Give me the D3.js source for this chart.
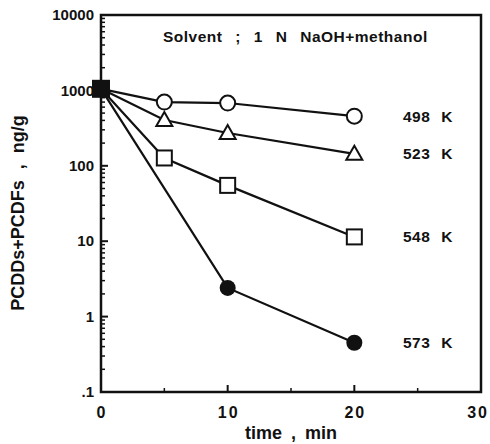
<!DOCTYPE html>
<html>
<head>
<meta charset="utf-8">
<script src="https://cdn.jsdelivr.net/npm/d3@7"></script>
<style>
  html, body { margin: 0; padding: 0; background: #fff; }
  svg text { font-family: "Liberation Sans", Arial, sans-serif; font-weight: bold; fill: #111; }
</style>
</head>
<body>
<div id="chart"></div>
<script>
const times = [0, 5, 10, 20];
const temps = ['498 K', '523 K', '548 K', '573 K'];
const markers = ['circle', 'triangle', 'square', 'dot'];
const conc498 = [1050, 700, 680, 455];
const conc523 = [1050, 405, 272, 144];
const conc548 = [1050, 127, 55, 11.4];
const conc573 = [1050, null, 2.4, 0.45];
const yTicks = [0.1, 1, 10, 100, 1000, 10000];
const yTickLabels = ['.1', '1', '10', '100', '1000', '10000'];
const xTicks = [0, 10, 20, 30];
const xMinor = [5, 15, 25];

const series = [conc498, conc523, conc548, conc573];

const width = 490, height = 444;
const margin = { top: 15, right: 9, bottom: 52, left: 101 };

const svg = d3.select('#chart').append('svg')
  .attr('width', width)
  .attr('height', height);

const x = d3.scaleLinear().domain([0, 30]).range([margin.left, width - margin.right]);
const y = d3.scaleLog().domain([0.1, 10000]).range([height - margin.bottom, margin.top]);

// frame
svg.append('rect')
  .attr('x', x(0)).attr('y', y(10000))
  .attr('width', x(30) - x(0)).attr('height', y(0.1) - y(10000))
  .attr('fill', 'none').attr('stroke', '#111').attr('stroke-width', 2.5);

// y axis, log minor ticks inside
const minor = [];
for (let d = 0.1; d < 10000; d *= 10) {
  for (let k = 2; k < 10; k++) minor.push(d * k);
}
svg.append('g').selectAll('line.minor').data(minor).join('line')
  .attr('x1', x(0)).attr('x2', x(0) + 4)
  .attr('y1', d => y(d)).attr('y2', d => y(d))
  .attr('stroke', '#111').attr('stroke-width', 1.5);
svg.append('g').selectAll('line.major').data(yTicks).join('line')
  .attr('x1', x(0)).attr('x2', x(0) + 7)
  .attr('y1', d => y(d)).attr('y2', d => y(d))
  .attr('stroke', '#111').attr('stroke-width', 2);
svg.append('g').selectAll('text').data(yTicks).join('text')
  .attr('x', x(0) - 7).attr('y', d => y(d))
  .attr('dy', '0.35em').attr('text-anchor', 'end')
  .attr('font-size', 15)
  .text((d, i) => yTickLabels[i]);

// x axis ticks inside
svg.append('g').selectAll('line').data(xTicks).join('line')
  .attr('x1', d => x(d)).attr('x2', d => x(d))
  .attr('y1', y(0.1)).attr('y2', y(0.1) - 7)
  .attr('stroke', '#111').attr('stroke-width', 2);
svg.append('g').selectAll('line').data(xMinor).join('line')
  .attr('x1', d => x(d)).attr('x2', d => x(d))
  .attr('y1', y(0.1)).attr('y2', y(0.1) - 4)
  .attr('stroke', '#111').attr('stroke-width', 1.5);
// last label would run off the page, so it is right-aligned to the edge
svg.append('g').selectAll('text').data(xTicks).join('text')
  .attr('x', (d, i) => i === xTicks.length - 1 ? width - 1 : x(d) + 1)
  .attr('y', y(0.1) + 26)
  .attr('text-anchor', (d, i) => i === xTicks.length - 1 ? 'end' : 'middle')
  .attr('font-size', 16)
  .attr('letter-spacing', 2)
  .text(d => d);

// lines
const line = d3.line()
  .x(d => x(d[0]))
  .y(d => y(d[1]));

series.forEach((vals) => {
  const pts = times.map((t, i) => [t, vals[i]]).filter(d => d[1] != null);
  svg.append('path')
    .datum(pts)
    .attr('d', line)
    .attr('fill', 'none')
    .attr('stroke', '#111')
    .attr('stroke-width', 2.2);
});

// markers
function drawMarker(g, type, cx, cy) {
  if (type === 'circle') {
    g.append('circle').attr('cx', cx).attr('cy', cy).attr('r', 7.5)
      .attr('fill', '#fff').attr('stroke', '#111').attr('stroke-width', 2);
  } else if (type === 'dot') {
    g.append('circle').attr('cx', cx).attr('cy', cy).attr('r', 8)
      .attr('fill', '#111');
  } else if (type === 'square') {
    g.append('rect').attr('x', cx - 7.5).attr('y', cy - 7.5)
      .attr('width', 15).attr('height', 15)
      .attr('fill', '#fff').attr('stroke', '#111').attr('stroke-width', 2);
  } else if (type === 'triangle') {
    const s = 8;
    g.append('path')
      .attr('d', `M${cx},${cy - s}L${cx + s},${cy + s * 0.75}L${cx - s},${cy + s * 0.75}Z`)
      .attr('fill', '#fff').attr('stroke', '#111').attr('stroke-width', 2);
  }
}

const mg = svg.append('g');
series.forEach((vals, si) => {
  times.forEach((t, i) => {
    if (i === 0 || vals[i] == null) return;
    drawMarker(mg, markers[si], x(t), y(vals[i]));
  });
});
// common starting point
mg.append('rect')
  .attr('x', x(0) - 9).attr('y', y(conc498[0]) - 9)
  .attr('width', 18).attr('height', 18)
  .attr('fill', '#111');

// series labels
svg.append('g').selectAll('text').data(temps).join('text')
  .attr('x', 403)
  .attr('y', (d, i) => y(series[i][3]))
  .attr('dy', '0.35em')
  .attr('font-size', 15.5)
  .attr('letter-spacing', 0.5)
  .attr('word-spacing', 6)
  .text(d => d);

// title
svg.append('text')
  .attr('x', 163).attr('y', 42)
  .attr('font-size', 15.5)
  .attr('letter-spacing', 0.5)
  .attr('word-spacing', 8)
  .text('Solvent ; 1 N NaOH+methanol');

// axis titles
svg.append('text')
  .attr('x', 291).attr('y', 439)
  .attr('text-anchor', 'middle')
  .attr('font-size', 18)
  .attr('word-spacing', 4)
  .text('time , min');

svg.append('text')
  .attr('transform', 'translate(24,213) rotate(-90)')
  .attr('text-anchor', 'middle')
  .attr('font-size', 18)
  .attr('word-spacing', 6)
  .text('PCDDs+PCDFs , ng/g');
</script>
</body>
</html>
